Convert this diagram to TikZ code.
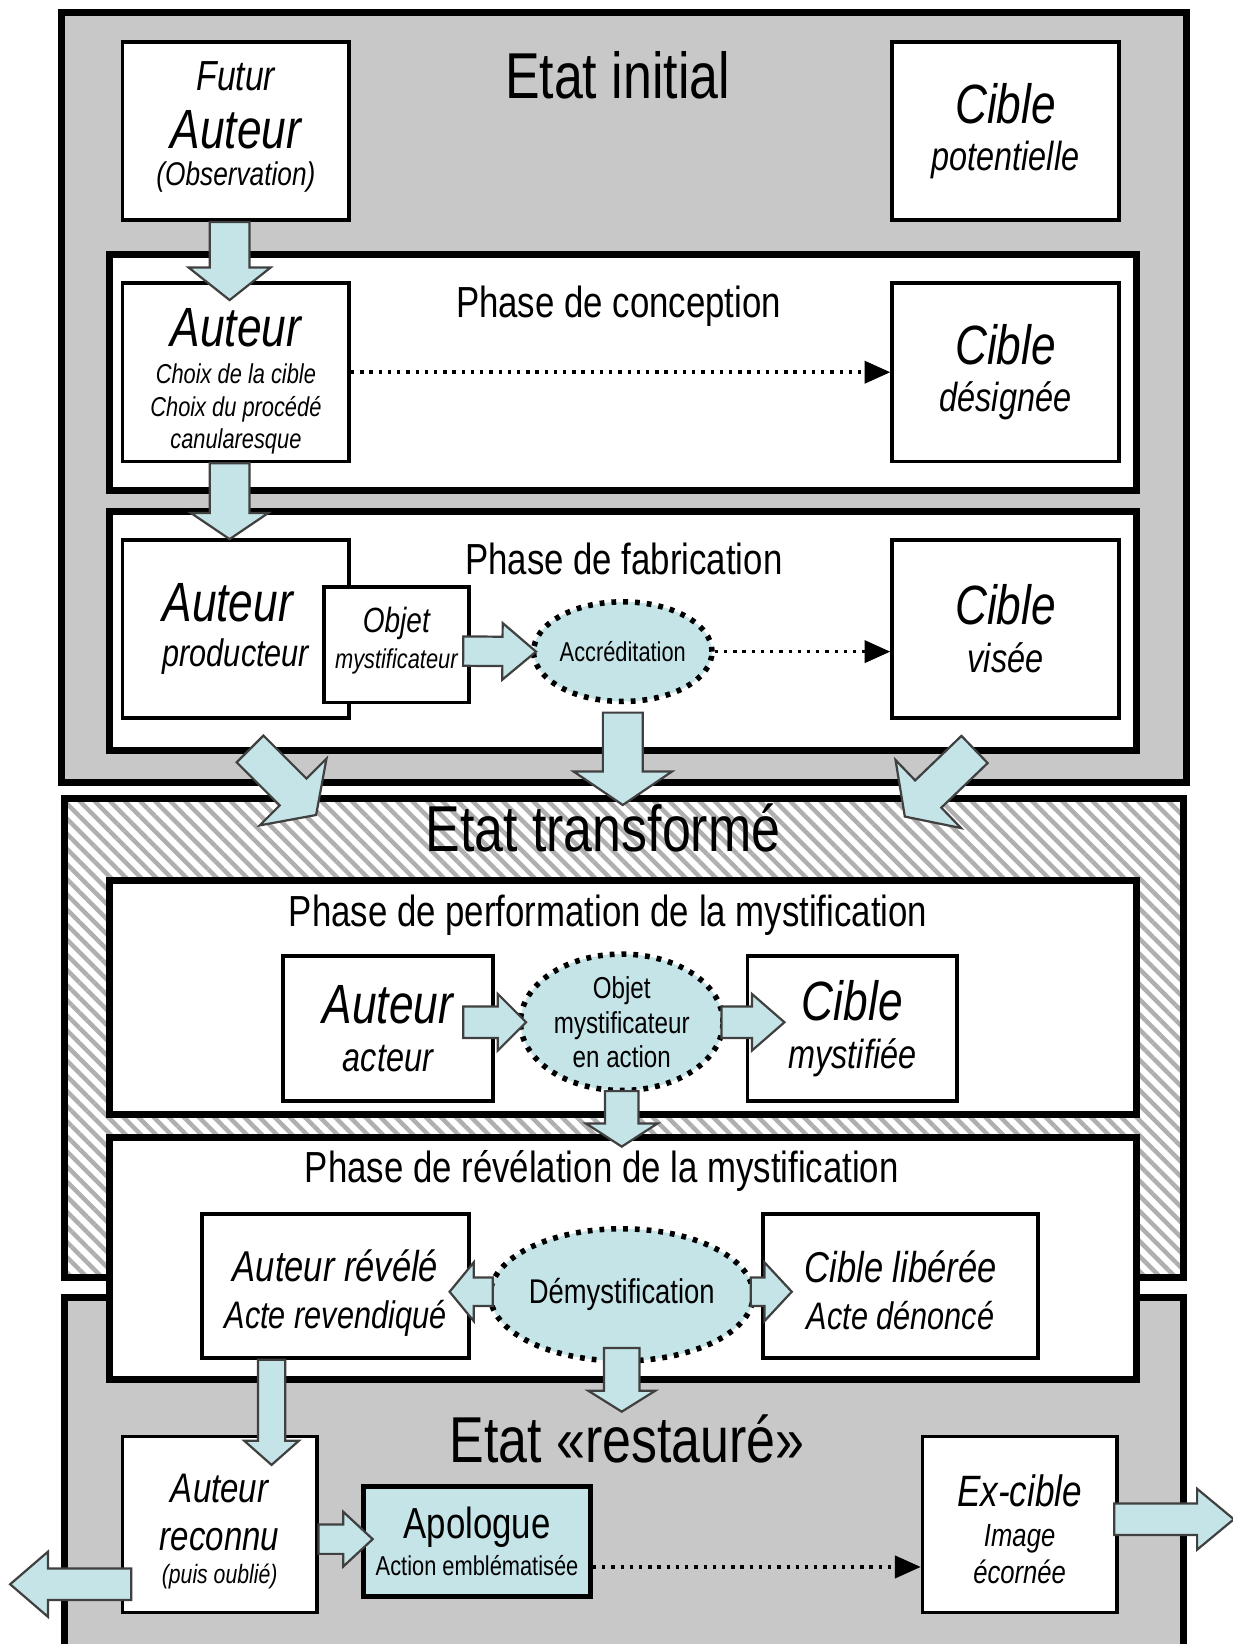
\documentclass[tikz,border=0pt]{standalone}
\usepackage{fontspec}
\setmainfont{Liberation Sans}[FakeStretch=0.8]
\RequirePackage{xcolor}
\usetikzlibrary{calc}
\usetikzlibrary{positioning}
\usetikzlibrary{shapes.geometric}
\usetikzlibrary{arrows.meta}
\usetikzlibrary{patterns.meta}

\definecolor{grisfond}{RGB}{200,200,200}
\definecolor{bleupale}{RGB}{197,228,231}
\definecolor{hachure}{RGB}{175,175,175}

\newcommand{\interligne}{\baselineskip=0pt\lineskiplimit=-\maxdimen}
\newcommand{\tgrand}{\fontsize{15}{0}\selectfont}
\newcommand{\tmoyen}{\fontsize{11}{0}\selectfont}
\newcommand{\tpetit}{\fontsize{7.4}{0}\selectfont}

\tikzset{
  etat/.style={draw, line width=1.9pt, inner sep=0pt},
  phase/.style={draw, fill=white, line width=1.9pt, inner sep=0pt},
  boite/.style={draw, fill=white, line width=1pt, inner sep=0pt, align=center, font=\itshape\interligne},
  bulle/.style={ellipse, draw, fill=bleupale, line width=1.5pt, dash pattern=on 1.3pt off 1.9pt, inner sep=0pt, align=center, font=\interligne},
  titre/.style={font=\fontsize{17.6}{0}\selectfont, inner sep=0pt, anchor=base},
  titrephase/.style={font=\fontsize{11.8}{0}\selectfont, inner sep=0pt, anchor=base},
  pointille/.style={line width=1pt, dash pattern=on 0.9pt off 1.6pt, -{Triangle[length=7pt,width=6pt]}},
  bloc/.style={draw=black!75, fill=bleupale, line width=0.6pt, line join=miter},
}

% grosse fleche : depart, arrivee, demi-corps, demi-tete, longueur tete
\newcommand{\fleche}[5]{%
  \coordinate (fa) at (#1);
  \coordinate (fb) at (#2);
  \coordinate (fc) at ($(fb)!#5!(fa)$);
  \draw[bloc] ($(fa)!#3!90:(fb)$) -- ($(fc)!#3!-90:(fa)$) -- ($(fc)!#4!-90:(fa)$) -- (fb)
    -- ($(fc)!#4!90:(fa)$) -- ($(fc)!#3!90:(fa)$) -- ($(fa)!#3!-90:(fb)$) -- cycle;
}

\begin{document}
\begin{tikzpicture}[x=0.01cm, y=-0.01cm]
  \useasboundingbox (0,0) rectangle (1176,1568);

  % Etat initial
  \node[etat, fill=grisfond, minimum width=10.73cm, minimum height=7.34cm] (initial) at (595,379) {};
  \node[titre] (tinitial) at (589,94) {Etat initial};
  \node[boite, minimum width=2.16cm, minimum height=1.70cm] (futur) at (225,125)
    {\fontsize{11.4}{0}\selectfont Futur\\[15.6pt]\tgrand Auteur\\[10.2pt]\fontsize{8.9}{0}\selectfont (Observation)\\[3.9pt]};
  \node[boite, minimum width=2.16cm, minimum height=1.70cm] (cibleP) at (959,125)
    {\tgrand Cible\\[12.8pt]\tmoyen potentielle};

  \node[phase, minimum width=9.785cm, minimum height=2.25cm] (conception) at (594,355.5) {};
  \node[titrephase] (tconception) at (590,303) {Phase de conception};
  \node[boite, minimum width=2.16cm, minimum height=1.70cm] (auteurC) at (225,355)
    {\tgrand Auteur\\[10pt]\tpetit Choix de la cible\\[9pt]\tpetit Choix du procédé\\[8.5pt]\tpetit canularesque\\[-3.45pt]};
  \node[boite, minimum width=2.16cm, minimum height=1.70cm] (cibleD) at (959,355)
    {\tgrand Cible\\[12.8pt]\tmoyen désignée};
  \draw[pointille] (auteurC.east) -- (cibleD.west);

  \node[phase, minimum width=9.785cm, minimum height=2.275cm] (fabrication) at (594,601.75) {};
  \node[titrephase] (tfabrication) at (595,548) {Phase de fabrication};
  \node[boite, align=left, minimum width=2.16cm, minimum height=1.70cm] (auteurP) at (225,600)
    {\tgrand Auteur\\[12.2pt]\fontsize{10.4}{0}\selectfont producteur};
  \node[boite, minimum width=1.38cm, minimum height=1.10cm] (objet) at (378,615)
    {\fontsize{9.5}{0}\selectfont Objet\\[9.7pt]\tpetit mystificateur\\[3.75pt]};
  \node[bulle, minimum width=1.62cm, minimum height=0.95cm] (accred) at (594,621.5) {\tpetit Accréditation};
  \node[boite, minimum width=2.16cm, minimum height=1.70cm] (cibleV) at (959,600)
    {\tgrand Cible\\[13pt]\tmoyen visée};
  \draw[pointille] (accred.east) -- (accred.east -| cibleV.west);

  % Etat transforme
  \node[etat, preaction={fill=white}, pattern={Lines[angle=-45,distance=2.9pt,line width=1.2pt]},
    pattern color=hachure, minimum width=10.67cm, minimum height=4.56cm] (transforme) at (595,990) {};
  \node[titre] (ttransforme) at (575,812) {Etat transformé};

  \node[phase, minimum width=9.785cm, minimum height=2.23cm] (performation) at (594,951.5) {};
  \node[titrephase] (tperformation) at (580,884) {Phase de performation de la mystification};
  \node[boite, minimum width=2.0cm, minimum height=1.38cm] (auteurA) at (370,981)
    {\tgrand Auteur\\[13pt]\tmoyen acteur};
  \node[bulle, minimum width=1.93cm, minimum height=1.30cm] (objA) at (593,975)
    {\fontsize{8.2}{0}\selectfont Objet\\[9.4pt]\fontsize{8.2}{0}\selectfont mystificateur\\[9.4pt]\fontsize{8.2}{0}\selectfont en action};
  \node[boite, minimum width=2.0cm, minimum height=1.38cm] (cibleM) at (813,981)
    {\tgrand Cible\\[13pt]\tmoyen mystifiée};

  % Etat restaure
  \node[etat, fill=grisfond, minimum width=10.67cm, minimum height=3.62cm] (restaure) at (595,1419) {};

  \node[phase, minimum width=9.785cm, minimum height=2.31cm] (revelation) at (594,1200.5) {};
  \node[titrephase] (trevelation) at (574,1128) {Phase de révélation de la mystification};
  \node[boite, minimum width=2.54cm, minimum height=1.37cm] (auteurR) at (320,1226.5)
    {\fontsize{11.7}{0}\selectfont Auteur révélé\\[12.8pt]\fontsize{10.4}{0}\selectfont Acte revendiqué\\[-1.8pt]};
  \node[bulle, minimum width=2.05cm, minimum height=1.26cm] (demyst) at (593,1235)
    {\fontsize{9.3}{0}\selectfont Démystification};
  \node[boite, minimum width=2.62cm, minimum height=1.37cm] (cibleL) at (859,1226.5)
    {\fontsize{11.7}{0}\selectfont Cible libérée\\[12.8pt]\fontsize{10.4}{0}\selectfont Acte dénoncé\\[-2.4pt]};

  \node[titre] (trestaure) at (598,1395) {Etat «restauré»};
  \node[boite, minimum width=1.85cm, minimum height=1.68cm] (auteurRec) at (209.5,1454)
    {\fontsize{11.2}{0}\selectfont Auteur\\[13pt]\fontsize{11.2}{0}\selectfont reconnu\\[9pt]\fontsize{7.2}{0}\selectfont (puis oublié)\\[-2.3pt]};
  \node[boite, fill=bleupale, line width=1.4pt, font=\interligne, minimum width=2.16cm, minimum height=1.05cm] (apologue) at (455,1470.5)
    {\fontsize{11.8}{0}\selectfont Apologue\\[10pt]\tpetit Action emblématisée};
  \node[boite, minimum width=1.85cm, minimum height=1.68cm] (exCible) at (972.5,1454)
    {\fontsize{11.9}{0}\selectfont Ex-cible\\[10.8pt]\fontsize{8.7}{0}\selectfont Image\\[10pt]\fontsize{8.7}{0}\selectfont écornée\\[-2.6pt]};
  \coordinate (apoD) at ($(apologue.east)+(0,24)$);
  \draw[pointille] (apoD) -- (apoD -| exCible.west);

  % grosses fleches
  \fleche{$(futur.south)+(-6,0)$}{$(auteurC.north)+(-6,18)$}{0.19cm}{0.39cm}{0.31cm}
  \fleche{$(auteurC.south)+(-6,0)$}{$(auteurP.north)+(-6,1)$}{0.19cm}{0.37cm}{0.25cm}
  \fleche{$(objet.east)+(-7,6)$}{$(accred.west)+(5,0)$}{0.14cm}{0.27cm}{0.32cm}
  \fleche{$(accred.south)+(0,8)$}{$(accred.south |- transforme.north)+(0,8)$}{0.19cm}{0.47cm}{0.32cm}
  \fleche{$(auteurP.south)+(13.5,27.5)$}{$(auteurP.south)+(76.5,90.5)$}{0.18cm}{0.45cm}{0.31cm}
  \fleche{$(cibleV.south)+(-29.5,28)$}{$(cibleV.south)+(-96,92)$}{0.18cm}{0.45cm}{0.31cm}
  \fleche{$(auteurA.east)+(-30,-6)$}{$(objA.west)+(8,0)$}{0.15cm}{0.27cm}{0.27cm}
  \fleche{$(objA.east)+(-4,0)$}{$(cibleM.west)+(37,-6)$}{0.15cm}{0.27cm}{0.31cm}
  \fleche{$(objA.south)+(0,-2)$}{$(objA.south |- revelation.north)+(0,12)$}{0.16cm}{0.34cm}{0.22cm}
  \fleche{$(demyst.west)+(5,-3)$}{$(auteurR.east)+(-20,5.5)$}{0.135cm}{0.28cm}{0.23cm}
  \fleche{$(demyst.east)+(-5,-3)$}{$(cibleL.west)+(29,5.5)$}{0.135cm}{0.28cm}{0.26cm}
  \fleche{$(demyst.south)+(0,-15)$}{$(demyst.south |- revelation.south)+(0,27)$}{0.17cm}{0.32cm}{0.20cm}
  \fleche{$(auteurR.south)+(-61,0)$}{$(auteurRec.north)+(49.5,29)$}{0.13cm}{0.26cm}{0.23cm}
  \fleche{$(auteurRec.east)+(0,14)$}{$(apologue.west)+(11,-2.5)$}{0.14cm}{0.26cm}{0.28cm}
  \fleche{$(exCible.east)+(-4,-5)$}{$(exCible.east)+(110,-5)$}{0.15cm}{0.29cm}{0.35cm}
  \fleche{$(auteurRec.west)+(10,57)$}{$(auteurRec.west)+(-105.5,57)$}{0.15cm}{0.31cm}{0.36cm}
\end{tikzpicture}
\end{document}
